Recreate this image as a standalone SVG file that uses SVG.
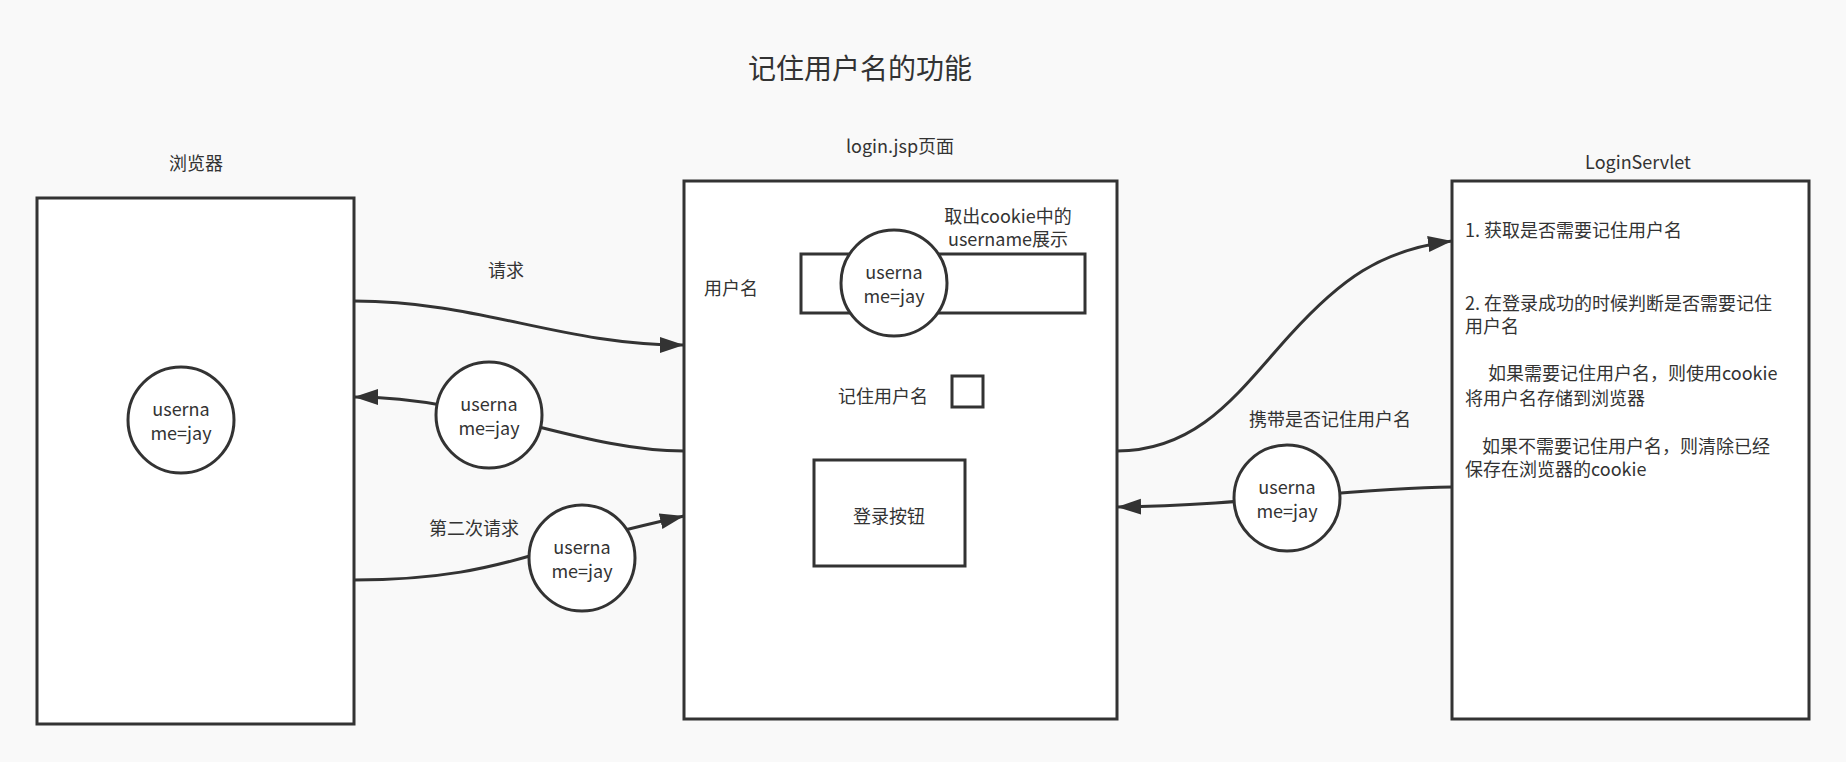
<svg xmlns="http://www.w3.org/2000/svg" width="1846" height="762" viewBox="0 0 1846 762">
<style>
text{font-family:"Noto Sans CJK SC","Noto Sans",sans-serif;font-size:18px;fill:#333;dominant-baseline:central}
.c{text-anchor:middle}
.box{fill:#fff;stroke:#333;stroke-width:3}
.edge{fill:none;stroke:#333;stroke-width:3}
</style>
<defs>
<marker id="arr" markerUnits="userSpaceOnUse" markerWidth="26" markerHeight="18" refX="24" refY="8" orient="auto" viewBox="0 0 26 18">
<path d="M0 0 L24 8 L0 16 Z" fill="#333"/>
</marker>
</defs>
<rect width="1846" height="762" fill="#f9f9f9"/>
<text class="c" x="860" y="67" style="font-size:28px">记住用户名的功能</text>
<g id="browser">
<text class="c" x="196" y="162">浏览器</text>
<rect class="box" x="37" y="198" width="317" height="526"/>
</g>
<g id="loginjsp">
<text class="c" x="900" y="145">login.jsp页面</text>
<rect class="box" x="684" y="181" width="433" height="538"/>
<text class="c" x="731" y="287">用户名</text>
<text class="c" x="1008" y="215">取出cookie中的<tspan x="1008" dy="23">username展示</tspan></text>
</g>
<g id="input">
<rect class="box" x="801" y="254" width="284" height="59"/>
</g>
<g id="remember">
<text class="c" x="883" y="395">记住用户名</text>
<rect class="box" x="952" y="376" width="31" height="31"/>
</g>
<g id="loginbtn">
<rect class="box" x="814" y="460" width="151" height="106"/>
<text class="c" x="889" y="515">登录按钮</text>
</g>
<g id="servlet">
<text class="c" x="1638" y="161">LoginServlet</text>
<rect class="box" x="1452" y="181" width="357" height="538"/>
<text x="1465" y="229">1. 获取是否需要记住用户名</text>
<text x="1465" y="302">2. 在登录成功的时候判断是否需要记住<tspan x="1465" dy="23">用户名</tspan></text>
<text x="1488" y="372">如果需要记住用户名，则使用cookie<tspan x="1465" dy="25">将用户名存储到浏览器</tspan></text>
<text x="1482" y="445">如果不需要记住用户名，则清除已经<tspan x="1465" dy="23">保存在浏览器的cookie</tspan></text>
</g>
<g id="connectors">
<path class="edge" d="M354 301 C480 301 560 345 684 345" marker-end="url(#arr)"/>
<path class="edge" d="M684 451 C580 451 480 397 354 397" marker-end="url(#arr)"/>
<path class="edge" d="M354 580 C440 580 490 568 540 553 C590 538 640 526 684 516" marker-end="url(#arr)"/>
<path class="edge" d="M1117 451 C1200 451 1240 390 1290 335 C1340 280 1380 250 1452 241" marker-end="url(#arr)"/>
<path class="edge" d="M1452 487 C1350 488 1250 505 1117 507" marker-end="url(#arr)"/>
<text class="c" x="506" y="269">请求</text>
<text class="c" x="474" y="527">第二次请求</text>
<text class="c" x="1330" y="418">携带是否记住用户名</text>
</g>
<g id="cookie-browser">
<circle class="box" cx="181" cy="420" r="53"/>
<text class="c" x="181" y="408">userna<tspan x="181" dy="24">me=jay</tspan></text>
</g>
<g id="cookie-response">
<circle class="box" cx="489" cy="415" r="53"/>
<text class="c" x="489" y="403">userna<tspan x="489" dy="24">me=jay</tspan></text>
</g>
<g id="cookie-second">
<circle class="box" cx="582" cy="558" r="53"/>
<text class="c" x="582" y="546">userna<tspan x="582" dy="24">me=jay</tspan></text>
</g>
<g id="cookie-input">
<circle class="box" cx="894" cy="283" r="53"/>
<text class="c" x="894" y="271">userna<tspan x="894" dy="24">me=jay</tspan></text>
</g>
<g id="cookie-servlet">
<circle class="box" cx="1287" cy="498" r="53"/>
<text class="c" x="1287" y="486">userna<tspan x="1287" dy="24">me=jay</tspan></text>
</g>
</svg>
